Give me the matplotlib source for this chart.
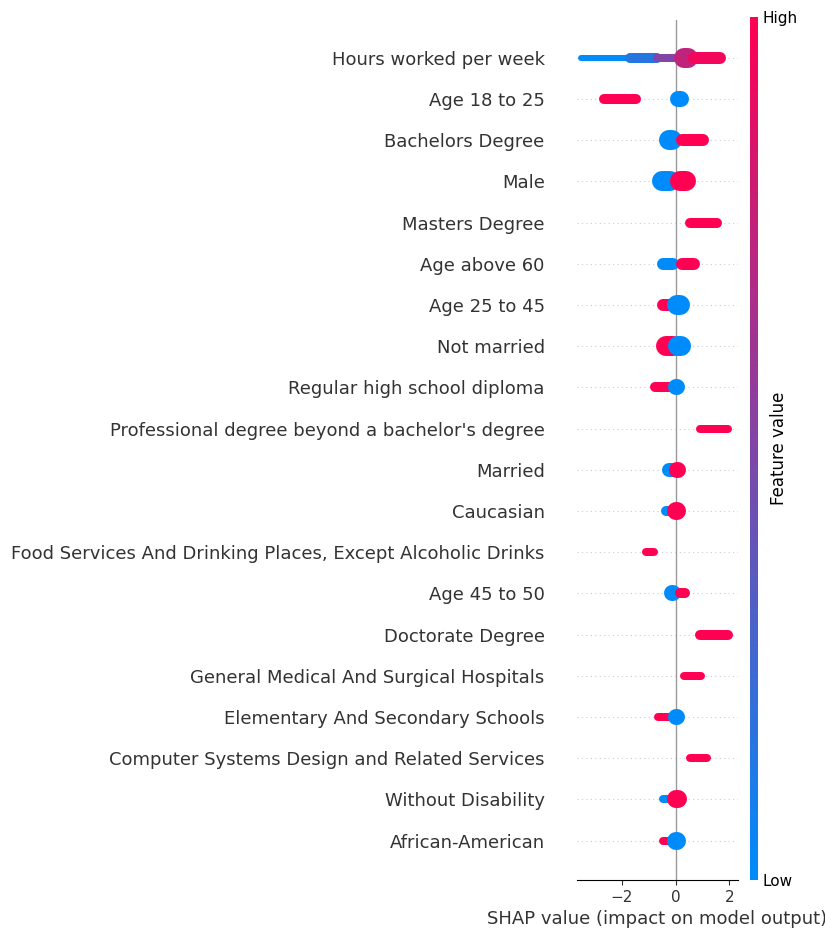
import matplotlib
matplotlib.use("Agg")
import matplotlib.pyplot as plt
from matplotlib.colors import LinearSegmentedColormap

features = [
    "Hours worked per week", "Age 18 to 25", "Bachelors Degree", "Male",
    "Masters Degree", "Age above 60", "Age 25 to 45", "Not married",
    "Regular high school diploma", "Professional degree beyond a bachelor's degree",
    "Married", "Caucasian",
    "Food Services And Drinking Places, Except Alcoholic Drinks",
    "Age 45 to 50", "Doctorate Degree", "General Medical And Surgical Hospitals",
    "Elementary And Secondary Schools", "Computer Systems Design and Related Services",
    "Without Disability", "African-American",
]

# clusters per feature: (shap min, shap max, spread in px, feature value 0..1)
clusters = [
    [(-3.5, -1.7, 3, 0.0), (-1.7, -0.7, 5, 0.15), (-0.7, 0.15, 4, 0.5), (0.3, 0.45, 10, 0.75), (0.7, 1.65, 6, 0.95)],
    [(-2.65, -1.45, 5, 1.0), (0.1, 0.2, 8, 0.0)],
    [(-0.25, -0.15, 10, 0.0), (0.25, 1.0, 6, 1.0)],
    [(-0.5, -0.2, 10, 0.0), (0.15, 0.4, 10, 1.0)],
    [(-0.1, -0.1, 8, 0.0), (0.55, 1.55, 5, 1.0)],
    [(-0.45, -0.1, 6, 0.0), (0.25, 0.7, 6, 1.0)],
    [(-0.45, -0.25, 6, 1.0), (0.05, 0.15, 10, 0.0)],
    [(-0.35, -0.1, 10, 1.0), (0.1, 0.2, 10, 0.0)],
    [(-0.75, -0.25, 5, 1.0), (0.02, 0.05, 8, 0.0)],
    [(-0.05, -0.05, 8, 0.0), (0.9, 1.95, 4, 1.0)],
    [(-0.25, -0.1, 7, 0.0), (0.05, 0.1, 8, 1.0)],
    [(-0.35, -0.15, 5, 0.0), (0.0, 0.05, 9, 1.0)],
    [(-1.1, -0.8, 4, 1.0), (0.0, 0.0, 8, 0.0)],
    [(-0.15, -0.1, 8, 0.0), (0.15, 0.35, 5, 1.0)],
    [(-0.05, -0.05, 8, 0.0), (0.9, 1.95, 5, 1.0)],
    [(0.0, 0.0, 8, 0.0), (0.3, 0.95, 4, 1.0)],
    [(-0.65, -0.25, 4, 1.0), (0.02, 0.05, 8, 0.0)],
    [(-0.05, -0.05, 8, 0.0), (0.55, 1.15, 4, 1.0)],
    [(-0.45, -0.2, 4, 0.0), (0.0, 0.1, 9, 1.0)],
    [(-0.45, -0.2, 4, 1.0), (0.0, 0.05, 9, 0.0)],
]

cmap = LinearSegmentedColormap.from_list("shap", ["#008bfb", "#ff0052"])

fig = plt.figure(figsize=(8.25, 9.4), dpi=100)
ax = fig.add_axes([0.699, 0.064, 0.195, 0.915])

n = len(features)
for i, (name, segs) in enumerate(zip(features, clusters)):
    y = n - 1 - i
    ax.axhline(y, color="#cccccc", linestyle=(0, (1, 3)), linewidth=0.8, zorder=0)
    for x0, x1, h, v in segs:
        ax.plot([x0, x1], [y, y], color=cmap(v), linewidth=2 * h / 1.389,
                solid_capstyle="round", zorder=3)

ax.axvline(0, color="#999999", linewidth=1, zorder=1)
ax.set_xlim(-3.67, 2.3)
ax.set_ylim(-0.95, n - 1 + 0.92)
ax.set_yticks(range(n))
ax.set_yticklabels(features[::-1], fontsize=13, color="#333333")
ax.tick_params(axis="y", length=0, pad=23)
ax.set_xticks([-2, 0, 2])
ax.set_xticklabels(["\u22122", "0", "2"])
ax.tick_params(axis="x", labelsize=11, colors="#333333")
for s in ["left", "top", "right"]:
    ax.spines[s].set_visible(False)
ax.set_xlabel("SHAP value (impact on model output)", fontsize=13, color="#333333")

cax = fig.add_axes([0.909, 0.064, 0.0097, 0.918])
sm = plt.cm.ScalarMappable(cmap=cmap, norm=plt.Normalize(0, 1))
cb = fig.colorbar(sm, cax=cax, ticks=[0, 1])
cb.set_ticklabels(["Low", "High"])
cb.ax.tick_params(length=0, labelsize=11)
cb.outline.set_visible(False)
cb.set_label("Feature value", fontsize=12, labelpad=-20)

plt.savefig("out.png", dpi=100)
